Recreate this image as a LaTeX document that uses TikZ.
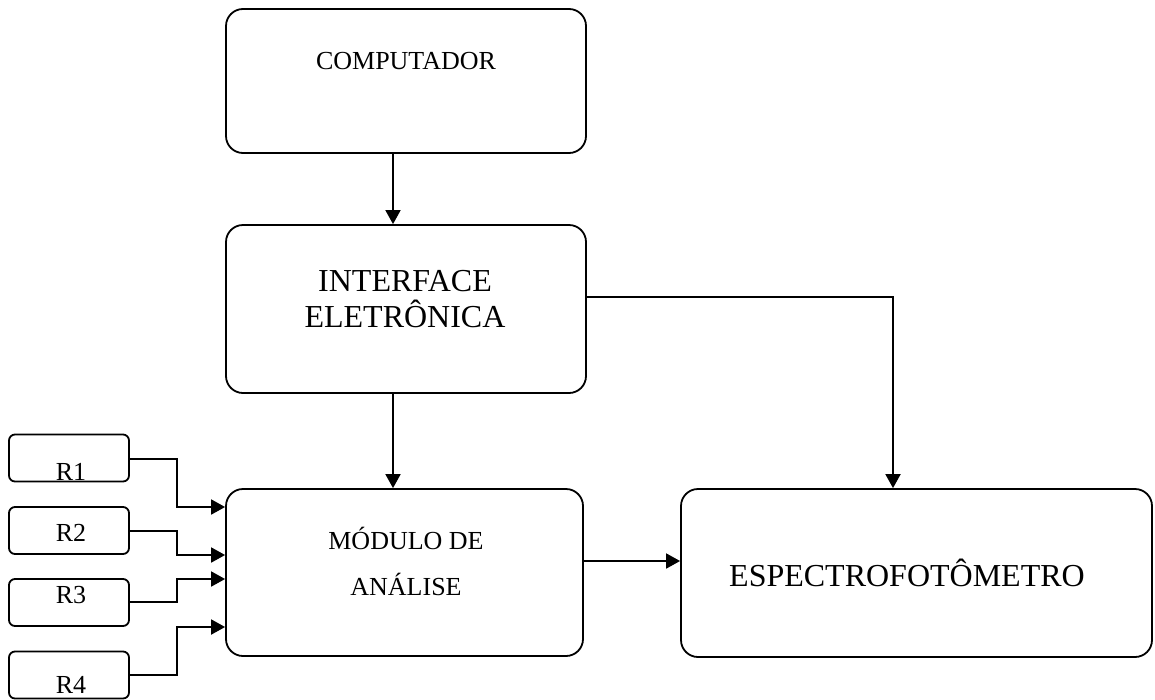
\documentclass[tikz,border=0pt]{standalone}
\usepackage{fontspec}
\setmainfont{Liberation Serif}
\usetikzlibrary{arrows.meta}
\begin{document}
\begin{tikzpicture}[x=1pt,y=-1pt,
  box/.style={draw,line width=1.8pt,rounded corners=17pt,inner sep=0pt},
  smallbox/.style={draw,line width=1.8pt,rounded corners=6pt,inner sep=0pt,
    minimum width=120pt,minimum height=47pt},
  wire/.style={line width=1.8pt},
  arr/.style={wire,-{Triangle[length=14pt,width=15pt]}},
  big/.style={font=\fontsize{32}{36}\selectfont,anchor=base,inner sep=0pt},
  small/.style={font=\fontsize{26}{30}\selectfont,anchor=base,inner sep=0pt}]
\useasboundingbox (0,0) rectangle (1155,699);

% main blocks
\node[box,minimum width=360pt,minimum height=144pt] (comp)   at (406,81) {};
\node[box,minimum width=360pt,minimum height=168pt] (iface)  at (406,309) {};
\node[box,minimum width=357pt,minimum height=167pt] (modulo) at (404.5,572.5) {};
\node[box,minimum width=471pt,minimum height=168pt] (espec)  at (916.5,573) {};

% reagent blocks
\node[smallbox] (r1) at (69,458) {};
\node[smallbox] (r2) at (69,530.5) {};
\node[smallbox] (r3) at (69,602.5) {};
\node[smallbox] (r4) at (69,675) {};

% labels
\node[small] (tcomp) at (406,69) {COMPUTADOR};
\node[big] (tif1) at (405,291) {INTERFACE};
\node[big] (tif2) at (405,327) {ELETRÔNICA};
\node[small] (tmod1) at (406,549) {MÓDULO DE};
\node[small] (tmod2) at (406,595) {ANÁLISE};
\node[big] (tesp) at (907,586) {ESPECTROFOTÔMETRO};
\node[small] (tr1) at (71,480) {R1};
\node[small] (tr2) at (71,541) {R2};
\node[small] (tr3) at (71,603) {R3};
\node[small] (tr4) at (71,693) {R4};

% connections
\draw[arr] ([xshift=-13pt]comp.south) -- ([xshift=-13pt]iface.north);
\draw[arr] ([xshift=-13pt]iface.south) -- ([xshift=-11.5pt]modulo.north);
\draw[arr] ([yshift=12pt]iface.east) -| ([xshift=-23.5pt]espec.north);
\draw[arr] ([yshift=11.5pt]modulo.east) -- (espec.west |- 0,561);

\draw[arr] (r1.east |- 0,459) -- (177,459) |- (modulo.west |- 0,507);
\draw[arr] (r2.east |- 0,531) -- (177,531) |- (modulo.west |- 0,555);
\draw[arr] (r3.east |- 0,602) -- (177,602) |- (modulo.west |- 0,579);
\draw[arr] (r4.east |- 0,675) -- (177,675) |- (modulo.west |- 0,627);
\end{tikzpicture}
\end{document}
